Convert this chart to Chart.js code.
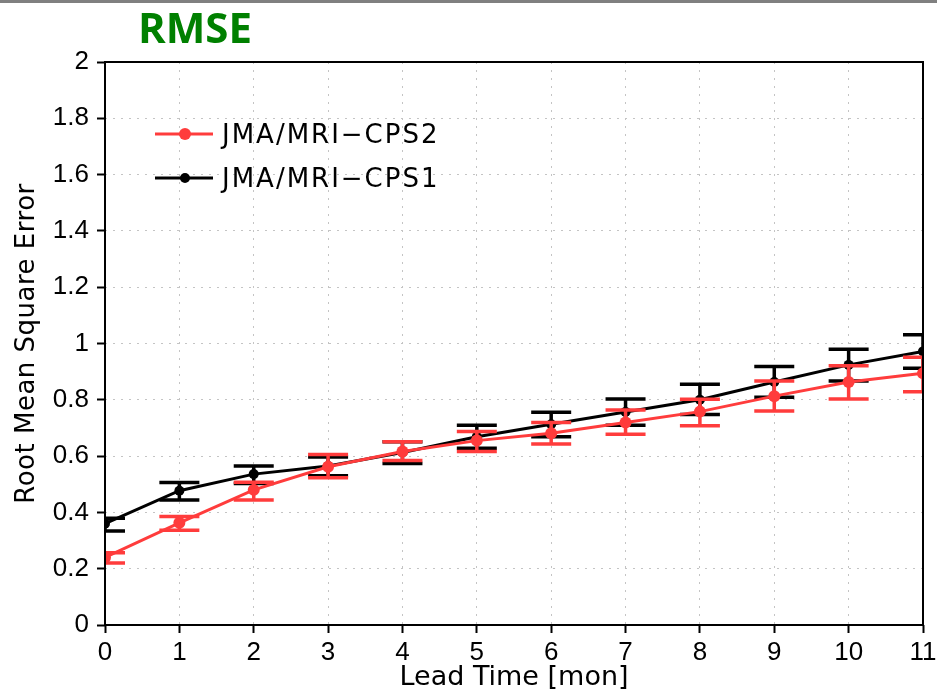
<!DOCTYPE html>
<html>
<head>
<meta charset="utf-8">
<script src="https://cdn.jsdelivr.net/npm/chart.js@4"></script>
<style>
  html, body { margin: 0; padding: 0; background: #fff; }
  canvas { display: block; }
</style>
</head>
<body>
<canvas id="chart" width="937" height="690"></canvas>
<script>
const leadTime = [0, 1, 2, 3, 4, 5, 6, 7, 8, 9, 10, 11];

const cps2 = [0.240, 0.363, 0.480, 0.562, 0.616, 0.655, 0.681, 0.719, 0.758, 0.813, 0.863, 0.894];
const cps2Lo = [0.220, 0.337, 0.444, 0.523, 0.584, 0.616, 0.643, 0.678, 0.708, 0.760, 0.803, 0.829];
const cps2Hi = [0.257, 0.385, 0.507, 0.606, 0.651, 0.687, 0.719, 0.764, 0.802, 0.867, 0.921, 0.951];

const cps1 = [0.360, 0.477, 0.536, 0.565, 0.613, 0.669, 0.713, 0.757, 0.800, 0.863, 0.924, 0.972];
const cps1Lo = [0.334, 0.444, 0.503, 0.530, 0.574, 0.628, 0.669, 0.710, 0.748, 0.809, 0.867, 0.912];
const cps1Hi = [0.379, 0.506, 0.565, 0.597, 0.651, 0.710, 0.756, 0.803, 0.855, 0.918, 0.980, 1.031];

const yTicks = [0, 0.2, 0.4, 0.6, 0.8, 1, 1.2, 1.4, 1.6, 1.8, 2];

const RED = '#ff3c3c';

const points = values => values.map((v, i) => ({x: leadTime[i], y: v}));

const series = (label, values, lo, hi, color, radius) => ({
  label: label,
  data: points(values),
  errLo: lo,
  errHi: hi,
  borderColor: color,
  backgroundColor: color,
  borderWidth: 3,
  pointRadius: radius,
  pointHoverRadius: radius,
  pointBorderWidth: 0,
  tension: 0,
  clip: 0,
});

// error bars drawn under each dataset's own line
const errorBars = {
  id: 'errorBars',
  beforeDatasetDraw(chart, args) {
    const ds = chart.data.datasets[args.index];
    const {ctx, chartArea: a, scales: {x, y}} = chart;
    ctx.save();
    ctx.beginPath();
    ctx.rect(a.left, a.top, a.right - a.left, a.bottom - a.top);
    ctx.clip();
    ctx.strokeStyle = ds.borderColor;
    ctx.lineWidth = 3.5;
    ds.data.forEach((p, i) => {
      const px = x.getPixelForValue(p.x);
      const lo = y.getPixelForValue(ds.errLo[i]);
      const hi = y.getPixelForValue(ds.errHi[i]);
      ctx.beginPath();
      ctx.moveTo(px, lo); ctx.lineTo(px, hi);
      ctx.moveTo(px - 20, lo); ctx.lineTo(px + 20, lo);
      ctx.moveTo(px - 20, hi); ctx.lineTo(px + 20, hi);
      ctx.stroke();
    });
    ctx.restore();
  }
};

const decor = {
  id: 'decor',
  beforeDraw(chart) {
    const ctx = chart.ctx;
    ctx.save();
    ctx.fillStyle = '#fff';
    ctx.fillRect(0, 0, chart.width, chart.height);
    ctx.fillStyle = '#808080';
    ctx.fillRect(0, 0, chart.width, 3);
    ctx.restore();
  },
  afterDraw(chart) {
    const {ctx, chartArea: a} = chart;
    ctx.save();
    // frame
    ctx.strokeStyle = '#000';
    ctx.lineWidth = 2;
    ctx.strokeRect(a.left, a.top, a.right - a.left, a.bottom - a.top);

    // title
    ctx.fillStyle = '#008000';
    ctx.font = 'bold 42px "Open Sans"';
    ctx.textAlign = 'left';
    ctx.textBaseline = 'alphabetic';
    ctx.fillText('RMSE', 138, 43);

    // axis titles
    ctx.fillStyle = '#000';
    ctx.font = '27px "DejaVu Sans"';
    ctx.textAlign = 'center';
    ctx.fillText('Lead Time [mon]', (a.left + a.right) / 2, 685);

    ctx.save();
    ctx.translate(34, (a.top + a.bottom) / 2);
    ctx.rotate(-Math.PI / 2);
    ctx.font = '26px "DejaVu Sans"';
    ctx.letterSpacing = '0.5px';
    ctx.fillText('Root Mean Square Error', 0, 0);
    ctx.restore();

    // legend
    ctx.font = '26px "DejaVu Sans"';
    ctx.letterSpacing = '2px';
    ctx.textAlign = 'left';
    chart.data.datasets.forEach((ds, i) => {
      const ly = 134 + i * 44;
      ctx.strokeStyle = ds.borderColor;
      ctx.lineWidth = 3;
      ctx.beginPath();
      ctx.moveTo(155, ly); ctx.lineTo(213, ly);
      ctx.stroke();
      ctx.fillStyle = ds.borderColor;
      ctx.beginPath();
      ctx.arc(185, ly, ds.pointRadius, 0, Math.PI * 2);
      ctx.fill();
      ctx.fillStyle = '#000';
      ctx.fillText(ds.label, 222, ly + 9);
    });
    ctx.restore();
  }
};

new Chart(document.getElementById('chart'), {
  type: 'line',
  data: {
    datasets: [
      series('JMA/MRI\u2212CPS2', cps2, cps2Lo, cps2Hi, RED, 6),
      series('JMA/MRI\u2212CPS1', cps1, cps1Lo, cps1Hi, '#000', 5),
    ]
  },
  options: {
    responsive: false,
    animation: false,
    layout: {padding: {left: 0, right: 14, top: 62, bottom: 0}},
    plugins: {
      legend: {display: false},
      tooltip: {enabled: false},
    },
    scales: {
      x: {
        type: 'linear',
        min: 0,
        max: 11,
        afterBuildTicks: s => { s.ticks = leadTime.map(v => ({value: v})); },
        afterFit: s => {
          s.height = 65;
          s.paddingLeft = 0; s.paddingRight = 0;
        },
        ticks: {
          color: '#000',
          font: {family: '"Liberation Sans"', size: 26},
          padding: 4,
          maxRotation: 0,
          autoSkip: false,
        },
        grid: {
          color: '#c4c4c4',
          lineWidth: 1,
          tickColor: '#000',
          tickWidth: 2,
          tickLength: 8,
        },
        border: {display: false, dash: [2, 6]},
      },
      y: {
        type: 'linear',
        min: 0,
        max: 2,
        afterBuildTicks: s => { s.ticks = yTicks.map(v => ({value: v})); },
        afterFit: s => {
          s.width = 105;
          s.paddingTop = 0; s.paddingBottom = 0;
        },
        ticks: {
          color: '#000',
          font: {family: '"Liberation Sans"', size: 26},
          padding: 8,
          autoSkip: false,
          callback: v => String(v),
        },
        grid: {
          color: '#c4c4c4',
          lineWidth: 1,
          tickColor: '#000',
          tickWidth: 2,
          tickLength: 8,
        },
        border: {display: false, dash: [2, 6]},
      },
    },
  },
  plugins: [errorBars, decor],
});
</script>
</body>
</html>
